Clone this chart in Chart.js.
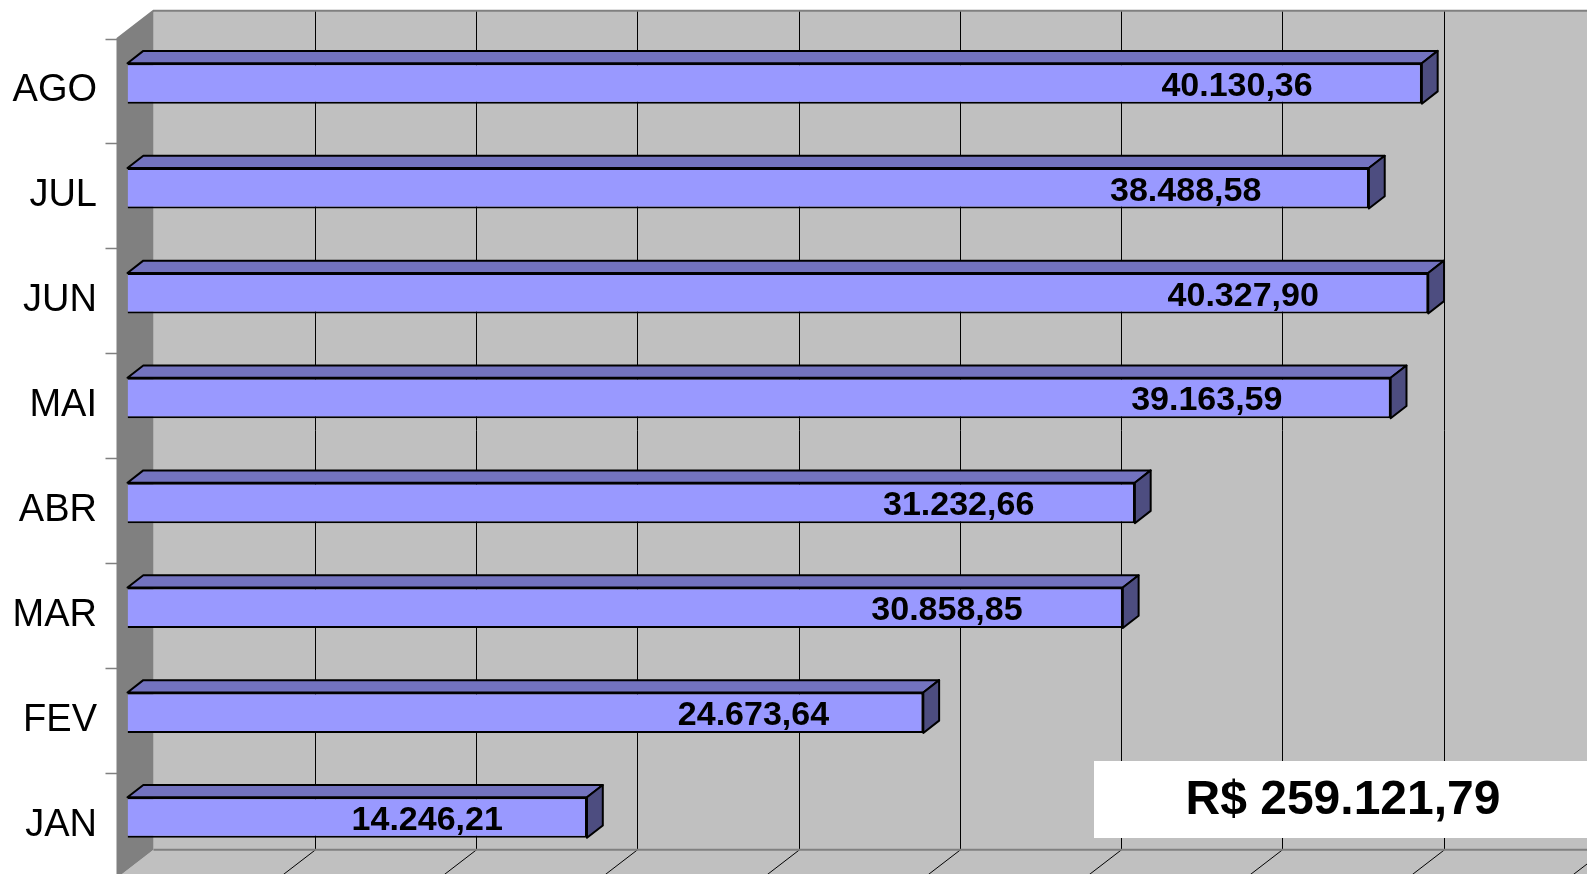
<!DOCTYPE html>
<html>
<head>
<meta charset="utf-8">
<script src="https://cdn.jsdelivr.net/npm/chart.js@4.4.0/dist/chart.umd.min.js"></script>
<style>
  html, body { margin: 0; padding: 0; background: #fff; }
  canvas { display: block; }
</style>
</head>
<body>
<canvas id="chart" width="1587" height="874"></canvas>
<script>
let months = ["JAN", "FEV", "MAR", "ABR", "MAI", "JUN", "JUL", "AGO"];
let values = [14246.21, 24673.64, 30858.85, 31232.66, 39163.59, 40327.90, 38488.58, 40130.36];
let gridStep = 5000;

// 3d offsets, measured from the plane of the bar fronts
let toBack = { x: 26, y: -20.2 };
let toFront = { x: -10, y: 7.5 };
let barDepth = { x: 15.8, y: -12.3 };

let total = values.reduce((a, b) => a + b, 0);

function fmt(v) {
    let parts = v.toFixed(2).split(".");
    return parts[0].replace(/\B(?=(\d{3})+(?!\d))/g, ".") + "," + parts[1];
}

function poly(ctx, pts, fill) {
    ctx.beginPath();
    ctx.moveTo(pts[0][0], pts[0][1]);
    for (let i = 1; i < pts.length; i++) ctx.lineTo(pts[i][0], pts[i][1]);
    ctx.closePath();
    if (fill) {
        ctx.fillStyle = fill;
        ctx.fill();
    }
}

let box3d = {
    id: "box3d",
    beforeDatasetsDraw(chart) {
        let ctx = chart.ctx;
        let area = chart.chartArea;
        let xs = chart.scales.x;
        let W = chart.width;
        let backL = area.left + toBack.x, backT = area.top + toBack.y, backB = area.bottom + toBack.y;
        let frontL = area.left + toFront.x, frontT = area.top + toFront.y, frontB = area.bottom + toFront.y;

        ctx.save();
        // back wall and floor
        ctx.fillStyle = "#c0c0c0";
        ctx.fillRect(backL, backT, W - backL, backB - backT);
        poly(ctx, [[backL, backB], [W, backB], [W, frontB], [frontL, frontB]], "#c0c0c0");
        // side wall
        poly(ctx, [[frontL, frontT], [backL, backT], [backL, backB], [frontL, frontB]], "#808080");

        // grid lines on wall and floor
        ctx.strokeStyle = "#000";
        ctx.lineWidth = 1;
        for (let v = gridStep; v <= xs.max + gridStep; v += gridStep) {
            let x = Math.round(xs.getPixelForValue(v) + toBack.x) + 0.5;
            ctx.beginPath();
            ctx.moveTo(x, backT);
            ctx.lineTo(x, backB);
            ctx.lineTo(x - toBack.x + toFront.x, frontB);
            ctx.stroke();
        }

        // outlines of the box
        ctx.strokeStyle = "#808080";
        ctx.lineWidth = 2;
        ctx.beginPath();
        ctx.moveTo(frontL, frontB);
        ctx.lineTo(frontL, frontT);
        ctx.lineTo(backL, backT);
        ctx.lineTo(W, backT);
        ctx.moveTo(backL, backB);
        ctx.lineTo(W, backB);
        ctx.stroke();

        // category tick marks
        let step = area.height / months.length;
        ctx.lineWidth = 1.5;
        ctx.beginPath();
        for (let i = 0; i <= months.length; i++) {
            let y = Math.round(area.top + i * step + toFront.y) + 0.5;
            ctx.moveTo(frontL - 12, y);
            ctx.lineTo(frontL, y);
        }
        ctx.stroke();

        // top and end faces of the bars
        ctx.strokeStyle = "#000";
        ctx.lineWidth = 2;
        ctx.lineJoin = "round";
        chart.getDatasetMeta(0).data.forEach(bar => {
            let p = bar.getProps(["x", "y", "base", "height"], true);
            let x0 = p.base, x1 = p.x;
            let yT = p.y - p.height / 2, yB = p.y + p.height / 2;
            let dx = barDepth.x, dy = barDepth.y;
            poly(ctx, [[x0, yT], [x0 + dx, yT + dy], [x1 + dx, yT + dy], [x1, yT]], "#7373bf");
            ctx.stroke();
            poly(ctx, [[x1, yT], [x1 + dx, yT + dy], [x1 + dx, yB + dy], [x1, yB]], "#4d4d80");
            ctx.stroke();
        });
        ctx.restore();
    },
    afterDatasetsDraw(chart) {
        let ctx = chart.ctx;
        let xs = chart.scales.x;
        let W = chart.width;
        ctx.save();
        ctx.fillStyle = "#000";
        ctx.font = "bold 34px 'Liberation Sans', Arial, sans-serif";
        ctx.textAlign = "center";
        ctx.textBaseline = "middle";
        chart.getDatasetMeta(0).data.forEach((bar, i) => {
            let x = xs.getPixelForValue(values[i] * 0.97) - 146;
            ctx.fillText(fmt(values[i]), x, bar.y + 3);
        });

        // total box
        ctx.fillStyle = "#fff";
        ctx.fillRect(1094, 761, W - 1094, 77);
        ctx.fillStyle = "#000";
        ctx.font = "bold 48px 'Liberation Sans', Arial, sans-serif";
        ctx.fillText("R$ " + fmt(total), 1343, 801);
        ctx.restore();
    }
};

let ctx = document.getElementById("chart").getContext("2d");

let barChart = new Chart(ctx, {
    type: "bar",
    data: {
        labels: months,
        datasets: [{
            data: values,
            backgroundColor: "#9999ff",
            borderColor: "#000",
            borderWidth: 2,
            categoryPercentage: 1,
            barPercentage: 0.386
        }]
    },
    options: {
        indexAxis: "y",
        responsive: false,
        animation: false,
        layout: {
            padding: { left: 0, right: 0, top: 31, bottom: 4 }
        },
        scales: {
            x: {
                display: false,
                min: 0,
                max: 45250
            },
            y: {
                reverse: true,
                grid: { display: false, drawTicks: false },
                border: { display: false },
                ticks: {
                    color: "#000",
                    font: { family: "'Liberation Sans', Arial, sans-serif", size: 38 },
                    padding: 30.5,
                    labelOffset: 7.5
                },
                afterFit(scale) {
                    scale.width = 127.5;
                    scale.paddingTop = 0;
                    scale.paddingBottom = 0;
                }
            }
        },
        plugins: {
            legend: { display: false },
            tooltip: { enabled: false }
        }
    },
    plugins: [box3d]
});
</script>
</body>
</html>
